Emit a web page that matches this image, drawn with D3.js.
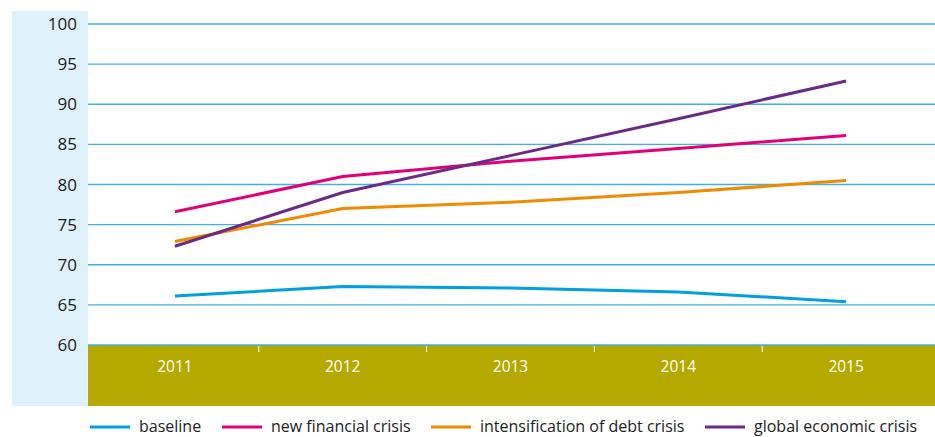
<!DOCTYPE html>
<html lang="en">
<head>
    <meta charset="UTF-8">
    <title>Scenarios</title>
    <style>
        body { margin: 0; background: #fff; }
        svg { display: block; font-family: "Open Sans", sans-serif; }
    </style>
</head>
<body>
    <script src="https://cdnjs.cloudflare.com/ajax/libs/d3/7.8.5/d3.min.js"></script>
    <script>
'use strict';
// data
const years = ['2011', '2012', '2013', '2014', '2015'];
const yTicks = [60, 65, 70, 75, 80, 85, 90, 95, 100];
const seriesNames = ['baseline', 'new financial crisis', 'intensification of debt crisis', 'global economic crisis'];
const baseline = [66.1, 67.3, 67.1, 66.6, 65.4];
const newFinancial = [76.6, 81.0, 82.9, 84.5, 86.1];
const debtCrisis = [72.9, 77.0, 77.8, 79.0, 80.5];
const globalCrisis = [72.3, 79.0, 83.6, 88.2, 92.9];
const colours = ['#009fe3', '#e2007a', '#f08a00', '#6b2a86'];

const series = [baseline, newFinancial, debtCrisis, globalCrisis];

const W = 935, H = 437;
const svg = d3.select('body').append('svg')
  .attr('width', W)
  .attr('height', H);

const plotLeft = 88, plotRight = 935, plotTop = 24, plotBottom = 345, bandBottom = 406;

const x = d3.scaleBand()
  .domain(years)
  .range([91, 930]);

const y = d3.scaleLinear()
  .domain([60, 100])
  .range([plotBottom, plotTop]);

// light blue panel behind the value labels
svg.append('rect')
  .attr('x', 12).attr('y', 11)
  .attr('width', plotLeft - 12).attr('height', bandBottom - 11)
  .style('fill', '#dff1fb');

// olive band for the years
svg.append('rect')
  .attr('x', plotLeft).attr('y', plotBottom)
  .attr('width', plotRight - plotLeft).attr('height', bandBottom - plotBottom)
  .style('fill', '#b5a900');

// grid lines
svg.append('g')
  .selectAll('line')
  .data(yTicks)
  .enter()
  .append('line')
    .attr('x1', plotLeft).attr('x2', plotRight)
    .attr('y1', d => y(d)).attr('y2', d => y(d))
    .style('stroke', '#3db2e8')
    .style('stroke-width', 1.3);

// y labels
svg.append('g')
  .selectAll('text')
  .data(yTicks)
  .enter()
  .append('text')
    .attr('x', 77)
    .attr('y', d => y(d) + 6)
    .attr('text-anchor', 'end')
    .style('font-size', '17px')
    .style('fill', '#1a1a1a')
    .text(d => d);

// x axis inside the band
const xAxis = svg.append('g')
  .attr('transform', `translate(0,${plotBottom})`)
  .call(d3.axisBottom(x).tickSize(0).tickPadding(16));
xAxis.select('.domain').remove();
xAxis.selectAll('text')
  .style('font-family', '"Open Sans", sans-serif')
  .style('font-size', '15.5px')
  .style('fill', '#fff');

// small separators between years
svg.append('g')
  .selectAll('line')
  .data(years.slice(1))
  .enter()
  .append('line')
    .attr('x1', d => x(d)).attr('x2', d => x(d))
    .attr('y1', plotBottom + 1).attr('y2', plotBottom + 7)
    .style('stroke', '#fff')
    .style('stroke-width', 1);

// lines
const line = d3.line()
  .x((d, i) => x(years[i]) + x.bandwidth() / 2)
  .y(d => y(d));

svg.append('g')
  .selectAll('path')
  .data(series)
  .enter()
  .append('path')
    .attr('d', line)
    .style('fill', 'none')
    .style('stroke', (d, i) => colours[i])
    .style('stroke-width', 3);

// legend
const legendX = [90, 222, 431, 705];
const legend = svg.append('g')
  .selectAll('g')
  .data(seriesNames)
  .enter()
  .append('g')
    .attr('transform', (d, i) => `translate(${legendX[i]},427)`);
legend.append('line')
  .attr('x1', 0).attr('x2', 40)
  .attr('y1', 0).attr('y2', 0)
  .style('stroke', (d, i) => colours[i])
  .style('stroke-width', 3);
legend.append('text')
  .attr('x', 49)
  .attr('y', 5)
  .style('font-size', '16px')
  .style('fill', '#222')
  .text(d => d);
    </script>
</body>
</html>
